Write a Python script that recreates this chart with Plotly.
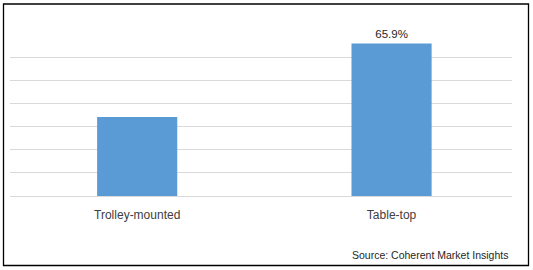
import plotly.graph_objects as go

categories = ["Trolley-mounted", "Table-top"]
values = [34.1, 65.9]
labels = ["", "65.9%"]

W, H = 533, 270
L, R, T, B = 10, 512, 34, 196

def px(x):
    return (x - L) / (R - L)

def py(y):
    return (B - y) / (B - T)

fig = go.Figure(go.Bar(
    x=[0, 1], y=values, width=0.315,
    marker=dict(color="#5B9BD5", line=dict(width=0)),
    text=labels, textposition="outside", cliponaxis=False,
    textfont=dict(family="Liberation Sans", size=11.5, color="#262626"),
))

fig.update_layout(
    width=W, height=H,
    margin=dict(l=L, r=W - R, t=T, b=H - B, pad=0),
    paper_bgcolor="white", plot_bgcolor="white",
    showlegend=False,
    font=dict(family="Liberation Sans", size=11, color="#404040"),
    xaxis=dict(range=[-0.5, 1.4735], tickvals=[0, 1], ticktext=categories,
               showgrid=False, zeroline=False, showline=False,
               ticks="outside", ticklen=8, tickcolor="rgba(0,0,0,0)",
               tickfont=dict(size=12, color="#404040")),
    yaxis=dict(range=[0, 70], dtick=10, showticklabels=False,
               showgrid=True, gridcolor="#D9D9D9", gridwidth=1,
               zeroline=True, zerolinecolor="#D9D9D9", zerolinewidth=1,
               showline=False),
    shapes=[dict(type="rect", xref="paper", yref="paper",
                 x0=px(3.5), x1=px(528.5), y0=py(265.5), y1=py(4),
                 line=dict(color="#000000", width=1.3), fillcolor="rgba(0,0,0,0)")],
    annotations=[dict(text="Source: Coherent Market Insights", xref="paper", yref="paper",
                      x=px(510), y=py(255), xanchor="right", yanchor="middle",
                      showarrow=False, font=dict(size=10.5, color="#262626"))],
)

fig.write_html("out.html")
